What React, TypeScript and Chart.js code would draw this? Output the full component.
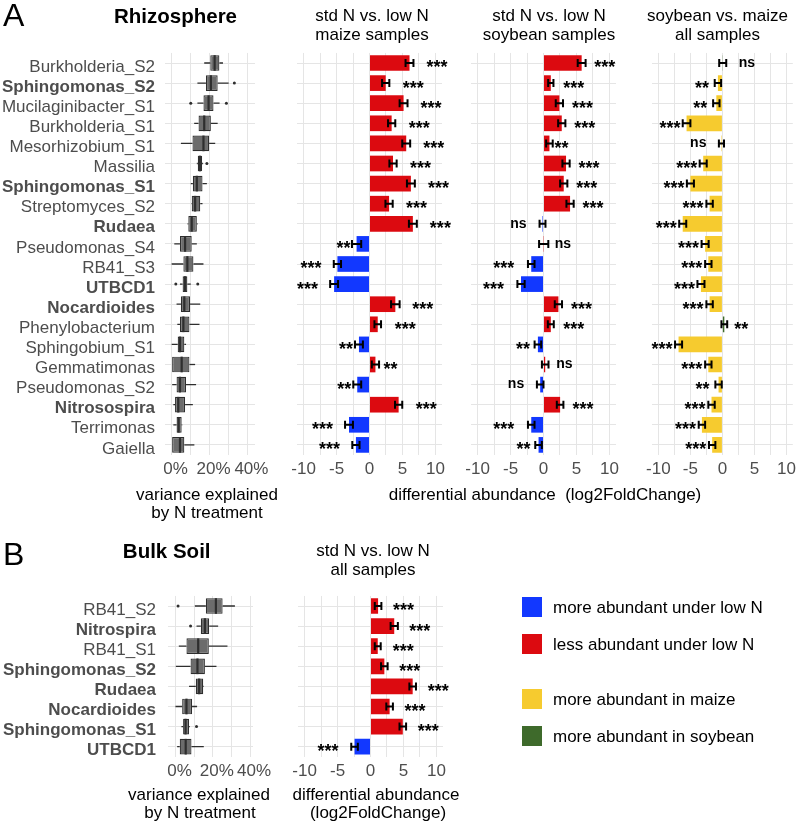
import React, { useEffect, useRef } from 'react';
import { Chart, registerables } from 'chart.js';
Chart.register(...registerables);

const FONT = "'Liberation Sans', Arial, Helvetica, sans-serif";
Chart.defaults.font.family = FONT;
const TICK_COLOR = '#4d4d4d';
const GRID_COLOR = '#e5e5e5';
const BLUE = '#1238ff';
const RED = '#dc0a10';
const YELLOW = '#f6cb2f';
const GREEN = '#3e6a2b';
const BOX_FILL = '#6c6c6c';
const BOX_LINE = '#2e2e2e';

// ---------- Panel A: rhizosphere ----------
const rhizoTaxa = ['Burkholderia_S2', 'Sphingomonas_S2', 'Mucilaginibacter_S1', 'Burkholderia_S1', 'Mesorhizobium_S1', 'Massilia', 'Sphingomonas_S1', 'Streptomyces_S2', 'Rudaea', 'Pseudomonas_S4', 'RB41_S3', 'UTBCD1', 'Nocardioides', 'Phenylobacterium', 'Sphingobium_S1', 'Gemmatimonas', 'Pseudomonas_S2', 'Nitrosospira', 'Terrimonas', 'Gaiella'];
const rhizoBold = [false, true, false, false, false, false, true, false, true, false, false, true, true, false, false, false, false, true, false, false];

// variance explained by N treatment (%), boxplot statistics
const rhizoLow = [17.2, 13.6, 13.6, 11.9, 4.9, 13.3, 10.1, 10.4, 8.4, 1.4, 0, 4.4, 2.6, 3.0, 0, 0, 0.3, 0.9, 0.9, 0];
const rhizoQ1 = [20.4, 18.1, 16.8, 14.2, 11.0, 13.8, 11.2, 10.6, 8.8, 4.4, 6.2, 5.8, 4.9, 4.4, 3.2, 0, 2.6, 1.8, 2.6, 0];
const rhizoMed = [22.7, 20.7, 19.5, 17.2, 16.8, 14.9, 13.3, 12.4, 10.6, 7.1, 8.3, 7.1, 6.7, 6.2, 4.4, 5.3, 4.4, 3.5, 3.7, 4.4];
const rhizoQ3 = [25.2, 24.3, 22.1, 20.7, 19.8, 16.1, 16.3, 15.1, 13.3, 10.6, 11.5, 8.3, 9.7, 9.4, 6.7, 9.4, 7.6, 7.1, 5.3, 6.7];
const rhizoHigh = [27.1, 30.1, 25.3, 24.3, 23.0, 16.6, 18.6, 16.3, 13.7, 13.3, 16.8, 10.1, 15.1, 14.7, 7.6, 12.4, 12.9, 11.2, 5.6, 12.0];
const rhizoOut = [[], [33.1], [10.1, 28.9], [], [], [18.6], [], [], [], [], [], [2.2, 13.8], [], [], [], [], [], [], [], []];

// std N vs low N, maize samples (log2FoldChange)
const maizeLFC = [6.07, 2.46, 5.17, 3.36, 5.57, 3.57, 6.28, 2.97, 6.58, -1.96, -4.87, -5.37, 3.92, 1.25, -1.6, 0.9, -1.86, 4.42, -3.11, -2.06];
const maizeErr = [0.6, 0.55, 0.6, 0.55, 0.6, 0.55, 0.6, 0.55, 0.6, 0.7, 0.55, 0.6, 0.65, 0.5, 0.6, 0.55, 0.6, 0.55, 0.6, 0.55];
const maizeSig = ['***', '***', '***', '***', '***', '***', '***', '***', '***', '**', '***', '***', '***', '***', '**', '**', '**', '***', '***', '***'];

// std N vs low N, soybean samples
const soyLFC = [5.79, 1.11, 2.41, 2.77, 0.9, 3.42, 3.07, 4.03, -0.15, 0.03, -1.86, -3.41, 2.26, 1.11, -0.85, 0.26, -0.5, 2.52, -1.86, -0.75];
const soyErr = [0.6, 0.4, 0.55, 0.55, 0.5, 0.55, 0.55, 0.55, 0.45, 0.7, 0.5, 0.55, 0.55, 0.45, 0.5, 0.5, 0.5, 0.5, 0.5, 0.5];
const soySig = ['***', '***', '***', '***', '**', '***', '***', '***', 'ns', 'ns', '***', '***', '***', '***', '**', 'ns', 'ns', '***', '***', '**'];

// soybean vs maize, all samples
const cropLFC = [0.05, -0.7, -0.95, -5.6, -0.15, -3.0, -5.0, -2.0, -6.2, -2.7, -2.2, -3.35, -2.0, 0.3, -6.85, -2.2, -0.6, -1.7, -3.2, -1.6];
const cropErr = [0.55, 0.5, 0.5, 0.6, 0.4, 0.55, 0.55, 0.5, 0.55, 0.55, 0.5, 0.55, 0.5, 0.45, 0.55, 0.5, 0.5, 0.5, 0.5, 0.5];
const cropSig = ['ns', '**', '**', '***', 'ns', '***', '***', '***', '***', '***', '***', '***', '***', '**', '***', '***', '**', '***', '***', '***'];

// ---------- Panel B: bulk soil ----------
const bulkTaxa = ['RB41_S2', 'Nitrospira', 'RB41_S1', 'Sphingomonas_S2', 'Rudaea', 'Nocardioides', 'Sphingomonas_S1', 'UTBCD1'];
const bulkBold = [false, true, false, true, true, true, true, true];
const bulkLow = [10.4, 11.3, 1.8, 0.2, 7.3, 0, 3.2, 0.9];
const bulkQ1 = [16.3, 13.6, 5.9, 8.1, 10.9, 3.6, 4.1, 2.3];
const bulkMed = [21.7, 15.8, 12.2, 11.8, 12.7, 5.9, 5.4, 5.5];
const bulkQ3 = [25.3, 18.1, 17.9, 15.8, 14.9, 8.9, 7.3, 8.6];
const bulkHigh = [31.9, 22.9, 27.9, 22.0, 15.2, 11.6, 7.7, 15.2];
const bulkOut = [[1.4], [8.1], [], [], [], [], [11.3], []];

const bulkLFC = [1.15, 3.6, 1.1, 2.1, 6.4, 2.9, 4.9, -2.42];
const bulkErr = [0.5, 0.55, 0.45, 0.5, 0.5, 0.5, 0.5, 0.5];
const bulkSig = ['***', '***', '***', '***', '***', '***', '***', '***'];

const lfcTicks = [-10, -7.5, -5, -2.5, 0, 2.5, 5, 7.5, 10];
const pctTicks = [0, 10, 20, 30, 40];

const W = 800;
const H = 825;
type Rect = { left: number; top: number; right: number; bottom: number };
const X_AXIS_H = 30;

function padFor(rect: Rect, yWidth: number) {
  return { left: rect.left - yWidth, top: rect.top, right: W - rect.right, bottom: H - rect.bottom - X_AXIS_H };
}

type GapMap = { pos: Record<string, number>; neg: Record<string, number> };

function annotPlugin(values: number[], errors: number[], sig: string[], gaps: GapMap) {
  return {
    id: 'annot',
    afterDatasetsDraw(chart: any) {
      const { ctx } = chart;
      const x = chart.scales.x;
      const y = chart.scales.y;
      ctx.save();
      ctx.strokeStyle = '#000';
      ctx.lineWidth = 2;
      values.forEach((v, i) => {
        const py = y.getPixelForValue(i);
        const a = x.getPixelForValue(v - errors[i]);
        const b = x.getPixelForValue(v + errors[i]);
        ctx.beginPath();
        ctx.moveTo(a, py); ctx.lineTo(b, py);
        ctx.moveTo(a, py - 4); ctx.lineTo(a, py + 4);
        ctx.moveTo(b, py - 4); ctx.lineTo(b, py + 4);
        ctx.stroke();
        const s = sig[i];
        const pos = v >= 0;
        const g = (pos ? gaps.pos : gaps.neg)[s];
        const px = x.getPixelForValue(v) + (pos ? g : -g);
        const isNs = s === 'ns';
        const size = isNs ? 14 : 18;
        ctx.font = `bold ${size}px ${FONT}`;
        ctx.fillStyle = '#000';
        ctx.textAlign = pos ? 'left' : 'right';
        ctx.textBaseline = 'alphabetic';
        ctx.fillText(s, px, py + (isNs ? 0.27 : 0.58) * size);
      });
      ctx.restore();
    },
  };
}

function barConfig(labels: string[], values: number[], errors: number[], sig: string[], rect: Rect, posColor: string, negColor: string, gaps: GapMap) {
  return {
    type: 'bar',
    data: {
      labels,
      datasets: [{
        data: values,
        backgroundColor: values.map((v) => (v >= 0 ? posColor : negColor)),
        borderWidth: 0,
        barPercentage: 0.78,
        categoryPercentage: 1,
      }],
    },
    options: {
      indexAxis: 'y',
      animation: false,
      responsive: false,
      devicePixelRatio: 1,
      events: [],
      layout: { padding: padFor(rect, 0) },
      plugins: { legend: { display: false }, tooltip: { enabled: false } },
      scales: {
        x: {
          type: 'linear', min: -11, max: 11,
          afterBuildTicks: (s: any) => { s.ticks = lfcTicks.map((v) => ({ value: v })); },
          ticks: {
            autoSkip: false, maxRotation: 0, padding: 4, color: TICK_COLOR, font: { size: 17 },
            callback: (v: number) => (v % 5 === 0 ? String(v) : ''),
          },
          grid: { color: GRID_COLOR, drawTicks: false },
          border: { display: false },
          afterFit: (s: any) => { s.height = X_AXIS_H; },
        },
        y: {
          type: 'category', offset: true,
          ticks: { display: false, autoSkip: false },
          grid: { color: GRID_COLOR, drawTicks: false, offset: false },
          border: { display: false },
          afterFit: (s: any) => { s.width = 0; },
        },
      },
    },
    plugins: [annotPlugin(values, errors, sig, gaps)],
  };
}

function boxPlugin(low: number[], med: number[], high: number[], q1: number[], q3: number[], out: number[][]) {
  return {
    id: 'boxExtras',
    beforeDatasetsDraw(chart: any) {
      const { ctx } = chart;
      const x = chart.scales.x;
      const y = chart.scales.y;
      ctx.save();
      ctx.strokeStyle = BOX_LINE;
      ctx.lineWidth = 1.3;
      low.forEach((lo, i) => {
        const py = y.getPixelForValue(i);
        ctx.beginPath();
        ctx.moveTo(x.getPixelForValue(lo), py); ctx.lineTo(x.getPixelForValue(q1[i]), py);
        ctx.moveTo(x.getPixelForValue(q3[i]), py); ctx.lineTo(x.getPixelForValue(high[i]), py);
        ctx.stroke();
      });
      ctx.restore();
    },
    afterDatasetsDraw(chart: any) {
      const { ctx } = chart;
      const x = chart.scales.x;
      const y = chart.scales.y;
      const band = Math.abs(y.getPixelForValue(1) - y.getPixelForValue(0));
      const half = band * 0.78 / 2;
      ctx.save();
      ctx.strokeStyle = BOX_LINE;
      ctx.fillStyle = BOX_LINE;
      ctx.lineWidth = 2.2;
      med.forEach((m, i) => {
        const py = y.getPixelForValue(i);
        const px = x.getPixelForValue(m);
        ctx.beginPath();
        ctx.moveTo(px, py - half); ctx.lineTo(px, py + half);
        ctx.stroke();
        out[i].forEach((o) => {
          ctx.beginPath();
          ctx.arc(x.getPixelForValue(o), py, 1.5, 0, Math.PI * 2);
          ctx.fill();
        });
      });
      ctx.restore();
    },
  };
}

function boxConfig(labels: string[], bold: boolean[], low: number[], q1: number[], med: number[], q3: number[], high: number[], out: number[][], rect: Rect, xMin: number, xMax: number, labelPad: number) {
  return {
    type: 'bar',
    data: {
      labels,
      datasets: [{
        data: q1.map((v, i) => [v, q3[i]]),
        backgroundColor: BOX_FILL,
        borderColor: BOX_LINE,
        borderWidth: 1.2,
        borderSkipped: false,
        barPercentage: 0.78,
        categoryPercentage: 1,
      }],
    },
    options: {
      indexAxis: 'y',
      animation: false,
      responsive: false,
      devicePixelRatio: 1,
      events: [],
      layout: { padding: padFor(rect, rect.left) },
      plugins: { legend: { display: false }, tooltip: { enabled: false } },
      scales: {
        x: {
          type: 'linear', min: xMin, max: xMax,
          afterBuildTicks: (s: any) => { s.ticks = pctTicks.map((v) => ({ value: v })); },
          ticks: {
            autoSkip: false, maxRotation: 0, padding: 4, color: TICK_COLOR, font: { size: 17 }, labelOffset: 4,
            callback: (v: number) => (v % 20 === 0 ? `${v}%` : ''),
          },
          grid: { color: GRID_COLOR, drawTicks: false },
          border: { display: false },
          afterFit: (s: any) => { s.height = X_AXIS_H; },
        },
        y: {
          type: 'category', offset: true,
          ticks: {
            autoSkip: false, padding: labelPad, color: TICK_COLOR, labelOffset: 4,
            font: (c: any) => ({ size: 17, weight: bold[c.index] ? 'bold' : 'normal' }),
          },
          grid: { color: GRID_COLOR, drawTicks: false, offset: false },
          border: { display: false },
          afterFit: (s: any) => { s.width = rect.left; },
        },
      },
    },
    plugins: [boxPlugin(low, med, high, q1, q3, out)],
  };
}

const ROW = 20.1;
const rectA = (l: number, r: number): Rect => ({ left: l, right: r, top: 63 - ROW / 2, bottom: 63 - ROW / 2 + ROW * rhizoTaxa.length });
const rectB = (l: number, r: number): Rect => ({ left: l, right: r, top: 606 - ROW / 2, bottom: 606 - ROW / 2 + ROW * bulkTaxa.length });

const gapsMaize: GapMap = { pos: { '***': 17, '**': 8, ns: 12 }, neg: { '***': 16, '**': 6, ns: 12 } };
const gapsSoy: GapMap = { pos: { '***': 12.5, '**': 5, ns: 11 }, neg: { '***': 17, '**': 8, ns: 16 } };
const gapsCrop: GapMap = { pos: { '***': 10, '**': 10, ns: 16 }, neg: { '***': 6, '**': 9, ns: 15 } };
const gapsBulk: GapMap = { pos: { '***': 15, '**': 8, ns: 12 }, neg: { '***': 16, '**': 6, ns: 12 } };

const chartConfigs = [
  () => boxConfig(rhizoTaxa, rhizoBold, rhizoLow, rhizoQ1, rhizoMed, rhizoQ3, rhizoHigh, rhizoOut, rectA(165, 255), -3.5, 44, 10),
  () => barConfig(rhizoTaxa, maizeLFC, maizeErr, maizeSig, rectA(297, 442), RED, BLUE, gapsMaize),
  () => barConfig(rhizoTaxa, soyLFC, soyErr, soySig, rectA(471, 616), RED, BLUE, gapsSoy),
  () => barConfig(rhizoTaxa, cropLFC, cropErr, cropSig, rectA(652, 797), GREEN, YELLOW, gapsCrop),
  () => boxConfig(bulkTaxa, bulkBold, bulkLow, bulkQ1, bulkMed, bulkQ3, bulkHigh, bulkOut, rectB(168, 253), -4, 41.6, 12),
  () => barConfig(bulkTaxa, bulkLFC, bulkErr, bulkSig, rectB(298, 443), RED, BLUE, gapsBulk),
];

function ChartCanvas({ make }: { make: () => any }) {
  const ref = useRef<HTMLCanvasElement>(null);
  useEffect(() => {
    const chart = new Chart(ref.current as HTMLCanvasElement, make());
    return () => chart.destroy();
  }, []);
  return <canvas ref={ref} width={W} height={H} style={{ position: 'absolute', left: 0, top: 0, width: W, height: H }} />;
}

type TxtProps = { x: number; y: number; text: string; size?: number; bold?: boolean; align?: 'left' | 'center'; color?: string };
function Txt({ x, y, text, size = 17, bold = false, align = 'center', color = '#000' }: TxtProps) {
  return (
    <div style={{
      position: 'absolute', left: x, top: y - 0.8465 * size, lineHeight: `${size}px`, fontSize: size,
      fontFamily: FONT, fontWeight: bold ? 'bold' : 'normal', color, whiteSpace: 'pre',
      transform: align === 'center' ? 'translateX(-50%)' : undefined,
    }}>{text}</div>
  );
}

const legendItems = [
  { color: BLUE, label: 'more abundant under low N', top: 597 },
  { color: RED, label: 'less abundant under low N', top: 634 },
  { color: YELLOW, label: 'more abundant in maize', top: 689 },
  { color: GREEN, label: 'more abundant in soybean', top: 726 },
];

export default function App() {
  return (
    <div style={{ position: 'absolute', left: 0, top: 0, width: W, height: H, background: '#fff', overflow: 'hidden' }}>
      {chartConfigs.map((m, i) => <ChartCanvas key={i} make={m} />)}
      <Txt x={3} y={26} text="A" size={32} align="left" />
      <Txt x={175.5} y={23} text="Rhizosphere" size={20.5} bold />
      <Txt x={372} y={21} text="std N vs. low N" />
      <Txt x={372} y={40} text="maize samples" />
      <Txt x={549} y={21} text="std N vs. low N" />
      <Txt x={549} y={40} text="soybean samples" />
      <Txt x={717.5} y={21} text="soybean vs. maize" />
      <Txt x={717.5} y={40} text="all samples" />
      <Txt x={207} y={500} text="variance explained" />
      <Txt x={207} y={518.5} text="by N treatment" />
      <Txt x={545} y={500} text="differential abundance  (log2FoldChange)" />

      <Txt x={3} y={565} text="B" size={32} align="left" />
      <Txt x={166.7} y={558} text="Bulk Soil" size={20.5} bold />
      <Txt x={373} y={556} text="std N vs. low N" />
      <Txt x={373} y={575} text="all samples" />
      <Txt x={199} y={800} text="variance explained" />
      <Txt x={200} y={818} text="by N treatment" />
      <Txt x={376} y={800} text="differential abundance" />
      <Txt x={378} y={818} text="(log2FoldChange)" />

      {legendItems.map((it) => (
        <React.Fragment key={it.label}>
          <div style={{ position: 'absolute', left: 522, top: it.top, width: 20, height: 20, background: it.color }} />
          <Txt x={553} y={it.top + 10 + 6} text={it.label} align="left" />
        </React.Fragment>
      ))}
    </div>
  );
}
